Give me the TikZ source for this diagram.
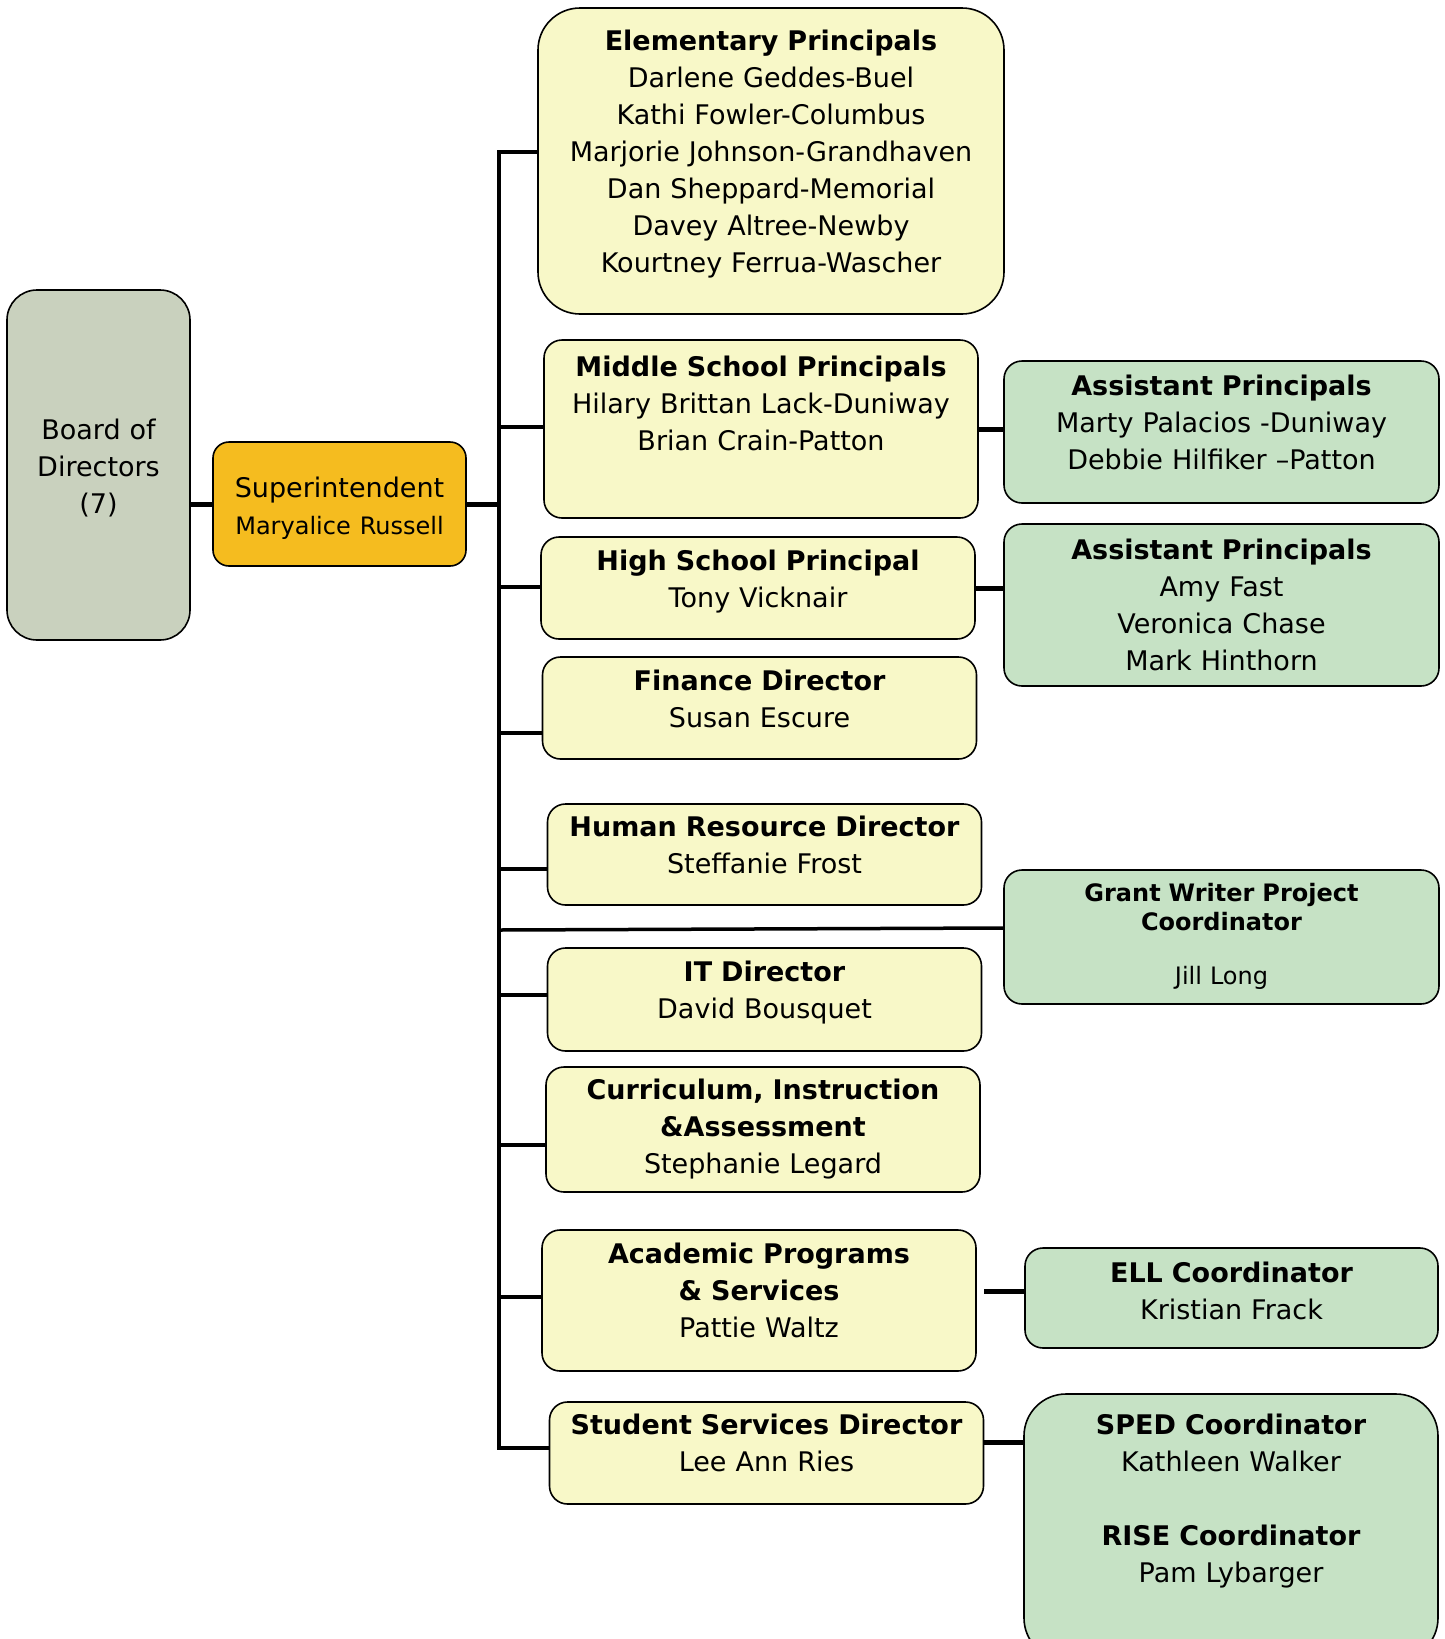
\documentclass[tikz,border=0pt]{standalone}
\usepackage{fontspec}
\setmainfont{DejaVu Sans}
\usetikzlibrary{positioning}
\usepackage{xcolor}

\definecolor{paleyellow}{HTML}{F8F8C8}
\definecolor{palegreen}{HTML}{C6E2C5}
\definecolor{boardgrey}{HTML}{C9D1BE}
\definecolor{supgold}{HTML}{F5BC1F}

\newcommand{\padbot}[1]{\rule[-#1pt]{0pt}{#1pt}}
\newcommand{\padtop}[1]{\rule{0pt}{#1pt}}
\newcommand{\namefont}{\fontsize{24}{29}\selectfont}

\begin{document}
\begin{tikzpicture}[
  x=1pt, y=-1pt,
  font=\fontsize{27}{37}\selectfont,
  box/.style={draw, line width=1.6pt, rounded corners=18pt, align=center, inner sep=4pt},
  ybox/.style={box, fill=paleyellow, minimum width=434pt, text width=414pt},
  gbox/.style={box, fill=palegreen, minimum width=435pt, text width=415pt},
  spine/.style={line width=4.6pt},
  branch/.style={line width=3.5pt},
  link/.style={line width=5pt}
]
\useasboundingbox (0,0) rectangle (1444,1639);

% left column
\node[box, fill=boardgrey, rounded corners=30pt, minimum width=183pt, minimum height=350pt, text width=163pt] (board) at (98.5,465) {\padtop{27}Board of\\Directors\\(7)};
\node[box, fill=supgold, rounded corners=16pt, minimum width=253pt, minimum height=124pt, text width=240pt] (sup) at (339.5,504) {\padtop{29}Superintendent\\{\namefont Maryalice Russell}};

% direct reports
\node[ybox, rounded corners=42pt, minimum width=466pt, text width=446pt, minimum height=306pt] (elem) at (771,161) {%
\textbf{Elementary Principals}\\
Darlene Geddes-Buel\\
Kathi Fowler-Columbus\\
Marjorie Johnson-Grandhaven\\
Dan Sheppard-Memorial\\
Davey Altree-Newby\\
Kourtney Ferrua-Wascher\padbot{20}};

\node[ybox, minimum height=178pt] (mid) at (761,429) {%
\textbf{Middle School Principals}\\
Hilary Brittan Lack-Duniway\\
Brian Crain-Patton\padbot{52}};

\node[ybox, minimum height=102pt] (high) at (758,588) {%
\textbf{High School Principal}\\
Tony Vicknair\padbot{18}};

\node[ybox, minimum height=102pt] (fin) at (759.5,708) {%
\textbf{Finance Director}\\
Susan Escure\padbot{18}};

\node[ybox, minimum height=101pt] (hr) at (764.5,854.5) {%
\textbf{Human Resource Director}\\
Steffanie Frost\padbot{19}};

\node[ybox, minimum height=103pt] (it) at (764.5,999.5) {%
\textbf{IT Director}\\
David Bousquet\padbot{19}};

\node[ybox, minimum height=125pt] (cur) at (763,1129.5) {%
\textbf{Curriculum, Instruction}\\
\textbf{\&Assessment}\\
Stephanie Legard};

\node[ybox, minimum height=141pt] (acad) at (759,1300.5) {%
\textbf{Academic Programs}\\
\textbf{\& Services}\\
Pattie Waltz\padbot{20}};

\node[ybox, minimum height=102pt] (stud) at (766.5,1453) {%
\textbf{Student Services Director}\\
Lee Ann Ries\padbot{20}};

% right column
\node[gbox, minimum height=142pt] (apmid) at (1221.5,432) {%
\textbf{Assistant Principals}\\
Marty Palacios -Duniway\\
Debbie Hilfiker –Patton\padbot{19}};

\node[gbox, minimum height=162pt] (aphigh) at (1221.5,605) {%
\textbf{Assistant Principals}\\
Amy Fast\\
Veronica Chase\\
Mark Hinthorn};

\node[gbox, minimum height=134pt, font=\namefont] (grant) at (1221.5,937) {%
\textbf{Grant Writer Project}\\
\textbf{Coordinator}\\[25pt]
Jill Long\padbot{7}};

\node[gbox, minimum width=413pt, text width=393pt, minimum height=100pt] (ell) at (1231.5,1298) {%
\textbf{ELL Coordinator}\\
Kristian Frack\padbot{15}};

\node[gbox, rounded corners=42pt, minimum width=414pt, text width=394pt, minimum height=266pt] (sped) at (1231,1527) {%
\textbf{SPED Coordinator}\\
Kathleen Walker\\[37pt]
\textbf{RISE Coordinator}\\
Pam Lybarger\padbot{58}};

% connectors
\coordinate (spinetop) at (499,152);
\coordinate (spinebot) at (499,1448);
\draw[spine] (elem.west |- spinetop) -- (spinetop) -- (spinebot) -- (stud.west |- spinebot);

\draw[link] (board.east |- sup.west) -- (sup.west);
\draw[link] (sup.east) -- (sup.east -| spinetop);

\foreach \n/\y in {mid/427, high/587, fin/733, hr/869, it/995, cur/1145, acad/1297} {
  \coordinate (j\n) at (499,\y);
  \draw[branch] (j\n) -- (j\n -| \n.west);
}

\coordinate (jgrant) at (499,930);
\draw[branch] (jgrant) -- ([yshift=9pt]grant.west);

\draw[link] (mid.east) -- (mid.east -| apmid.west);
\draw[link] (high.east) -- (high.east -| aphigh.west);

\coordinate (ellstart) at (984,1291);
\draw[link] (ellstart) -- (ellstart -| ell.west);
\coordinate (spedstart) at (984,1442);
\draw[link] (spedstart) -- (spedstart -| sped.west);

\end{tikzpicture}
\end{document}
